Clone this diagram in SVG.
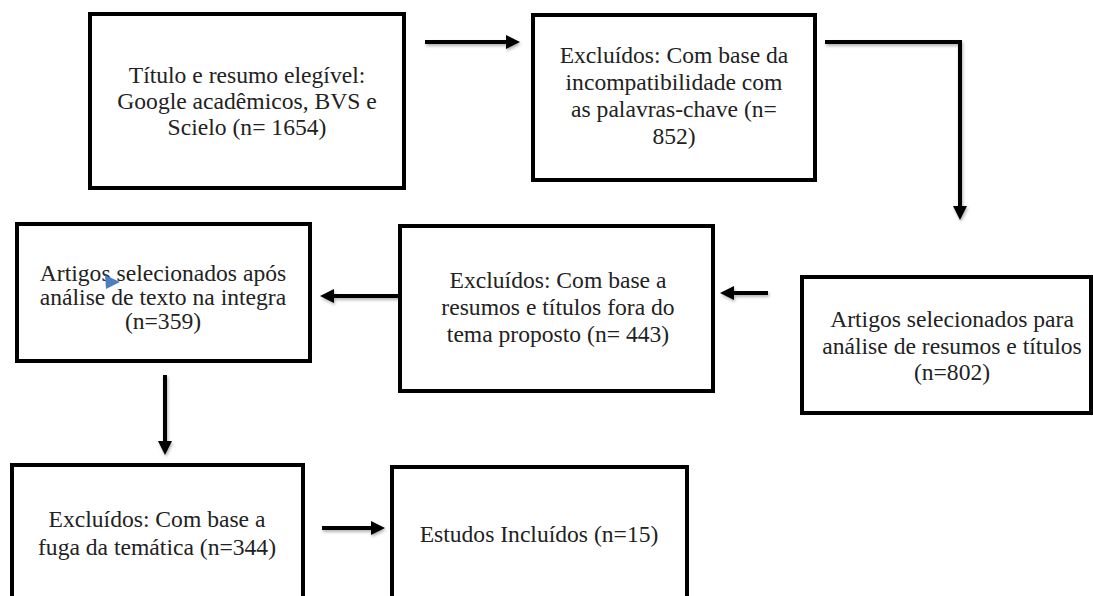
<svg xmlns="http://www.w3.org/2000/svg" width="1093" height="596" viewBox="0 0 1093 596">
<defs>
<style>
.box{fill:#ffffff;stroke:#000000;stroke-width:4}
.t{font-size:23.6px;fill:#222222;text-anchor:middle}
.c{fill:none;stroke:#000000;stroke-width:4;marker-end:url(#ah)}
</style>
<marker id="ah" markerUnits="userSpaceOnUse" markerWidth="16" markerHeight="16" refX="2" refY="7" orient="auto">
<path d="M0,0 L14,7 L0,14 z" fill="#000000"/>
</marker>
<filter id="sh" x="-20%" y="-50%" width="140%" height="200%">
<feDropShadow dx="1" dy="2" stdDeviation="1.5" flood-color="#000000" flood-opacity="0.3"/>
</filter>
</defs>
<rect width="1093" height="596" fill="#ffffff"/>
<g id="connectors" filter="url(#sh)">
<path class="c" d="M425,42 L508,42"/>
<path class="c" d="M825,42 L960,42 L960,208"/>
<path class="c" d="M768,293 L732,293"/>
<path class="c" d="M400,296 L332,296"/>
<path class="c" d="M165,375 L165,443"/>
<path class="c" d="M322,528 L373,528"/>
</g>
<g font-family="Liberation Serif, DejaVu Serif, serif">
<g id="node1">
<rect class="box" x="90" y="14" width="314" height="174"/>
<text class="t" x="247" y="83">Título e resumo elegível:</text>
<text class="t" x="247" y="109">Google acadêmicos, BVS e</text>
<text class="t" x="247" y="135">Scielo (n= 1654)</text>
</g>
<g id="node2">
<rect class="box" x="533" y="15" width="282" height="165"/>
<text class="t" x="674" y="63">Excluídos: Com base da</text>
<text class="t" x="674" y="90">incompatibilidade com</text>
<text class="t" x="674" y="117">as palavras-chave (n=</text>
<text class="t" x="674" y="144">852)</text>
</g>
<g id="node3">
<rect class="box" x="802" y="277" width="289" height="136"/>
<text class="t" x="952" y="327">Artigos selecionados para</text>
<text class="t" x="952" y="354">análise de resumos e títulos</text>
<text class="t" x="952" y="380">(n=802)</text>
</g>
<g id="node4">
<rect class="box" x="400" y="226" width="313" height="165"/>
<text class="t" x="558" y="288">Excluídos: Com base a</text>
<text class="t" x="558" y="315">resumos e títulos fora do</text>
<text class="t" x="558" y="342">tema proposto (n= 443)</text>
</g>
<g id="node5">
<rect class="box" x="17" y="224" width="293" height="137"/>
<text class="t" x="163" y="281">Artigos selecionados após</text>
<text class="t" x="163" y="305">análise de texto na integra</text>
<text class="t" x="163" y="329">(n=359)</text>
<polygon points="105,275 120,282 106,289" fill="#4a7fc1"/>
</g>
<g id="node6">
<rect class="box" x="12" y="465" width="291" height="150"/>
<text class="t" x="157" y="527">Excluídos: Com base a</text>
<text class="t" x="157" y="555">fuga da temática (n=344)</text>
</g>
<g id="node7">
<rect class="box" x="392" y="467" width="295" height="150"/>
<text class="t" x="539" y="542">Estudos Incluídos (n=15)</text>
</g>
</g>
</svg>
